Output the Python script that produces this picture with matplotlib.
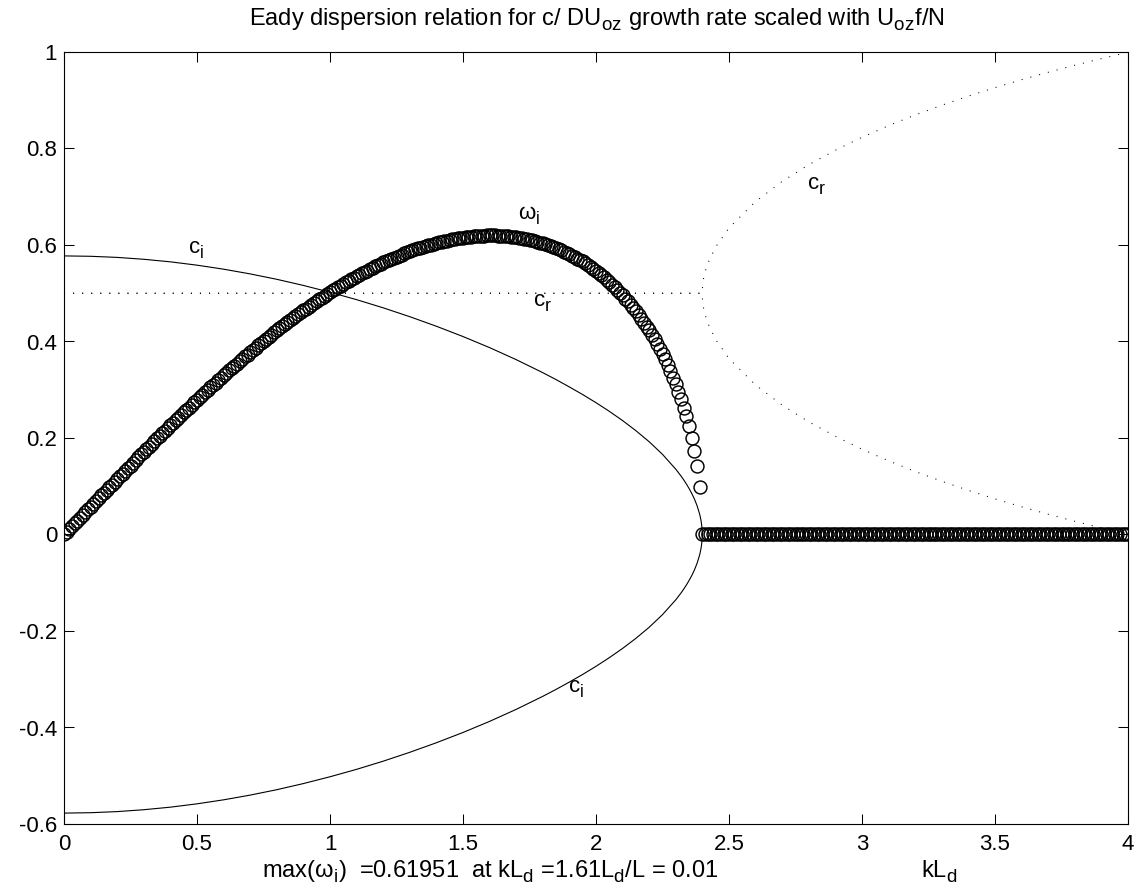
import numpy as np
import matplotlib
matplotlib.use("Agg")
import matplotlib.pyplot as plt
import matplotlib._mathtext as mathtext_internals

plt.rcParams['font.family'] = ['Liberation Sans', 'DejaVu Sans']
plt.rcParams['mathtext.fontset'] = 'custom'
plt.rcParams['mathtext.rm'] = 'Liberation Sans'
plt.rcParams['mathtext.it'] = 'Liberation Sans:italic'
plt.rcParams['mathtext.default'] = 'regular'
plt.rcParams['axes.unicode_minus'] = False

# MATLAB-style subscripts are bigger and sit lower than mathtext's defaults
mathtext_internals.SHRINK_FACTOR = 0.8
mathtext_internals.FontConstantsBase.sub1 = 0.45
mathtext_internals.FontConstantsBase.sub2 = 0.6

# growth rate omega_i, one value every 0.01 in kL_d (0.00 ... 2.39), zero beyond cutoff
omega_unstable = [
    0.000, 0.006, 0.012, 0.017, 0.023, 0.029, 0.035, 0.040, 0.046, 0.052,
    0.058, 0.063, 0.069, 0.075, 0.081, 0.086, 0.092, 0.098, 0.103, 0.109,
    0.115, 0.121, 0.126, 0.132, 0.137, 0.143, 0.149, 0.154, 0.160, 0.166,
    0.171, 0.177, 0.182, 0.188, 0.193, 0.199, 0.204, 0.210, 0.215, 0.221,
    0.226, 0.231, 0.237, 0.242, 0.247, 0.253, 0.258, 0.263, 0.269, 0.274,
    0.279, 0.284, 0.289, 0.295, 0.300, 0.305, 0.310, 0.315, 0.320, 0.325,
    0.330, 0.335, 0.340, 0.345, 0.349, 0.354, 0.359, 0.364, 0.369, 0.373,
    0.378, 0.383, 0.387, 0.392, 0.396, 0.401, 0.405, 0.410, 0.414, 0.419,
    0.423, 0.427, 0.432, 0.436, 0.440, 0.444, 0.448, 0.452, 0.456, 0.461,
    0.465, 0.468, 0.472, 0.476, 0.480, 0.484, 0.488, 0.491, 0.495, 0.498,
    0.502, 0.506, 0.509, 0.512, 0.516, 0.519, 0.523, 0.526, 0.529, 0.532,
    0.535, 0.538, 0.541, 0.544, 0.547, 0.550, 0.553, 0.556, 0.558, 0.561,
    0.564, 0.566, 0.569, 0.571, 0.574, 0.576, 0.578, 0.580, 0.583, 0.585,
    0.587, 0.589, 0.591, 0.593, 0.594, 0.596, 0.598, 0.600, 0.601, 0.603,
    0.604, 0.606, 0.607, 0.608, 0.609, 0.611, 0.612, 0.613, 0.614, 0.614,
    0.615, 0.616, 0.617, 0.617, 0.618, 0.618, 0.619, 0.619, 0.619, 0.620,
    0.620, 0.620, 0.620, 0.619, 0.619, 0.619, 0.618, 0.618, 0.617, 0.617,
    0.616, 0.615, 0.614, 0.613, 0.612, 0.611, 0.610, 0.608, 0.607, 0.605,
    0.604, 0.602, 0.600, 0.598, 0.596, 0.594, 0.591, 0.589, 0.586, 0.584,
    0.581, 0.578, 0.575, 0.572, 0.569, 0.566, 0.562, 0.558, 0.554, 0.550,
    0.546, 0.542, 0.537, 0.533, 0.528, 0.523, 0.518, 0.512, 0.507, 0.501,
    0.496, 0.489, 0.483, 0.476, 0.469, 0.463, 0.455, 0.447, 0.439, 0.431,
    0.423, 0.414, 0.405, 0.395, 0.385, 0.374, 0.363, 0.351, 0.339, 0.325,
    0.311, 0.296, 0.281, 0.263, 0.245, 0.224, 0.201, 0.174, 0.142, 0.099,
]
omega_stable = [0.0] * 161          # kL_d = 2.40 ... 4.00
omega = np.array(omega_unstable + omega_stable)
k = np.linspace(0, 4, len(omega))

# imaginary phase speed c_i (upper branch, lower one is its mirror)
ci_k = [0.0, 0.1, 0.2, 0.3, 0.4, 0.5, 0.6, 0.7, 0.8, 0.9, 1.0, 1.1, 1.2, 1.3,
        1.4, 1.5, 1.6, 1.7, 1.8, 1.85, 1.9, 1.95, 2.0, 2.05, 2.1, 2.15, 2.2,
        2.25, 2.3, 2.32, 2.33, 2.34, 2.35, 2.36, 2.37, 2.38, 2.39, 2.395,
        2.398, 2.399, 2.3994]
ci = [0.5774, 0.5766, 0.5743, 0.5704, 0.5651, 0.5582, 0.5499, 0.5401, 0.5289,
      0.5162, 0.5021, 0.4867, 0.4698, 0.4514, 0.4316, 0.4103, 0.3873, 0.3624,
      0.3354, 0.3210, 0.3058, 0.2900, 0.2732, 0.2553, 0.2361, 0.2152, 0.1922,
      0.1661, 0.1353, 0.1209, 0.1130, 0.1045, 0.0952, 0.0851, 0.0735, 0.0597,
      0.0416, 0.0284, 0.0161, 0.0086, 0.0]

# real phase speed c_r, both roots
cr_k = [0.0, 2.3994, 2.4, 2.4027, 2.4058, 2.41, 2.42, 2.45, 2.5, 2.6, 2.7,
        2.8, 2.9, 3.0, 3.1, 3.2, 3.3, 3.4, 3.5, 3.6, 3.7, 3.8, 3.9, 4.0]
cr_upper = [0.5, 0.5, 0.5108, 0.525, 0.535, 0.5441, 0.5614, 0.5961, 0.6353,
            0.6902, 0.7319, 0.7665, 0.7965, 0.8232, 0.8474, 0.8694, 0.8897,
            0.9086, 0.9261, 0.9426, 0.9580, 0.9726, 0.9863, 0.9993]
cr_lower = [0.5, 0.5, 0.4892, 0.475, 0.465, 0.4559, 0.4386, 0.4039, 0.3647,
            0.3098, 0.2681, 0.2335, 0.2035, 0.1768, 0.1526, 0.1306, 0.1103,
            0.0914, 0.0739, 0.0574, 0.0420, 0.0274, 0.0137, 0.0007]

xticks = [0, 0.5, 1, 1.5, 2, 2.5, 3, 3.5, 4]
xticklabels = ['0', '0.5', '1', '1.5', '2', '2.5', '3', '3.5', '4']
yticks = [-0.6, -0.4, -0.2, 0, 0.2, 0.4, 0.6, 0.8, 1]
yticklabels = ['-0.6', '-0.4', '-0.2', '0', '0.2', '0.4', '0.6', '0.8', '1']

W, H = 1145, 888
fig = plt.figure(figsize=(W / 100, H / 100), dpi=100)
ax = fig.add_axes([64 / W, 1 - 824 / H, (1128 - 64) / W, (824 - 52) / H])

dots = (0, (1, 7.7))
ax.plot(k, omega, 'o', mfc='none', mec='k', ms=9.3, mew=1.05)
ax.plot(ci_k, ci, color='k', lw=0.8)
ax.plot(ci_k, np.negative(ci), color='k', lw=0.8)
ax.plot(cr_k, cr_upper, color='k', lw=0.75, ls=dots)
ax.plot(cr_k, cr_lower, color='k', lw=0.75, ls=dots)

ax.set_xlim(0, 4)
ax.set_ylim(-0.6, 1)
ax.set_xticks(xticks)
ax.set_xticklabels(xticklabels)
ax.set_yticks(yticks)
ax.set_yticklabels(yticklabels)
ax.tick_params(direction='in', length=7, width=0.75, top=True, right=True,
               labelsize=16)
ax.tick_params(axis='x', pad=7.5)
ax.tick_params(axis='y', pad=5)
for sp in ax.spines.values():
    sp.set_linewidth(0.8)

fs = 16
ax.text(0.466, 0.582, 'c$_i$', fontsize=fs, va='baseline')
ax.text(1.707, 0.652, r'$\omega_i$', fontsize=fs, va='baseline')
ax.text(1.763, 0.472, 'c$_r$', fontsize=fs, va='baseline')
ax.text(2.793, 0.714, 'c$_r$', fontsize=fs, va='baseline')
ax.text(1.895, -0.327, 'c$_i$', fontsize=fs, va='baseline')

fig.text(597 / W, 1 - 25 / H,
         'Eady dispersion relation for c/ DU$_{oz}$ growth rate scaled with U$_{oz}$f/N',
         ha='center', va='baseline', fontsize=17)
fig.text(262 / W, 1 - 877 / H,
         r'max($\omega_i$)  =0.61951  at kL$_d$ =1.61L$_d$/L = 0.01',
         ha='left', va='baseline', fontsize=17)
fig.text(921 / W, 1 - 877 / H, 'kL$_d$', ha='left', va='baseline', fontsize=17)

fig.savefig('out.png', dpi=100)
